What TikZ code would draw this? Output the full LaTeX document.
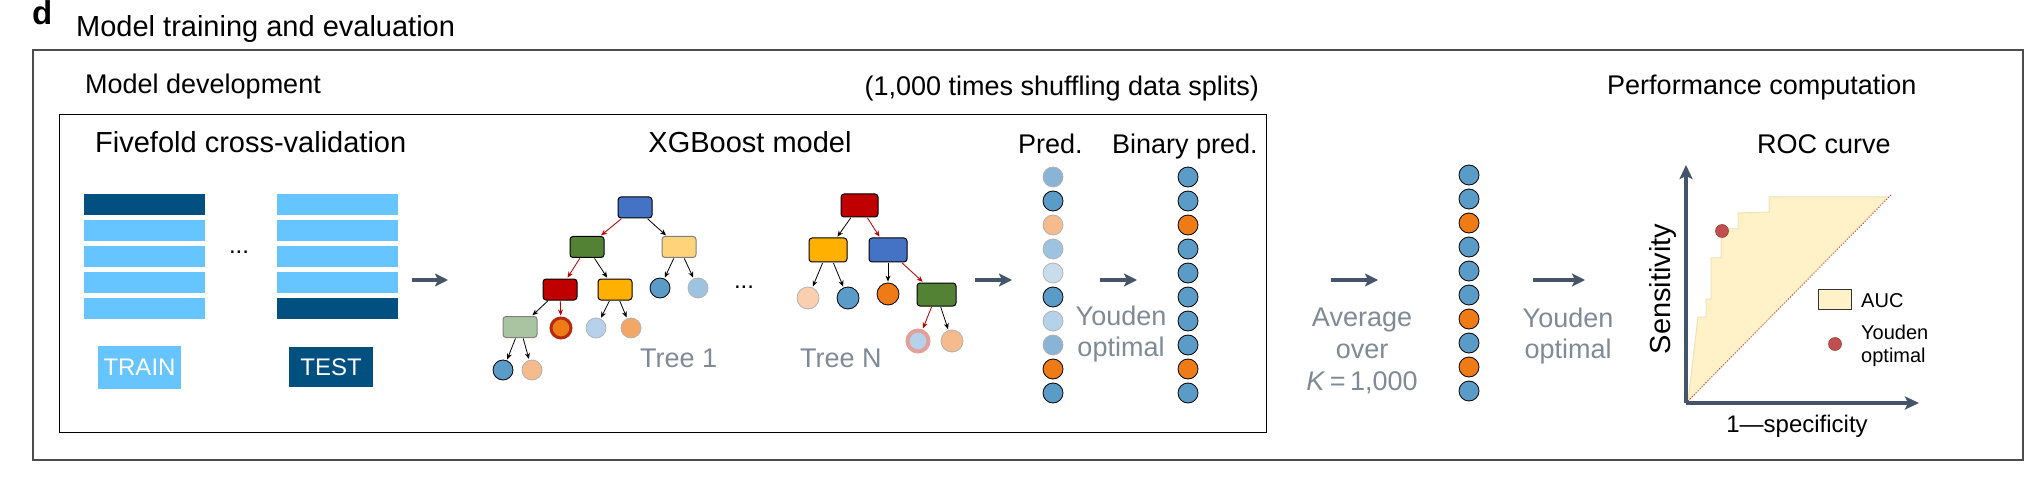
\documentclass[tikz,border=0pt]{standalone}
\usepackage{fontspec}
\setmainfont{Liberation Sans}
\usetikzlibrary{positioning,arrows.meta}

\definecolor{navy}{HTML}{02507F}
\definecolor{sky}{HTML}{66C5FF}
\definecolor{slate}{HTML}{44546A}
\definecolor{greytext}{HTML}{7F8A96}
\definecolor{boxblue}{HTML}{4472C4}
\definecolor{boxgreen}{HTML}{548235}
\definecolor{boxsand}{HTML}{FFD37A}
\definecolor{boxred}{HTML}{C00000}
\definecolor{boxamber}{HTML}{FFB000}
\definecolor{boxsage}{HTML}{A9C4A0}
\definecolor{dotblue}{HTML}{5B9BC8}
\definecolor{dotorange}{HTML}{EE7B16}
\definecolor{dotpeach}{HTML}{F5BB8C}
\definecolor{dotcream}{HTML}{F9CFB0}
\definecolor{dotapricot}{HTML}{F2A766}
\definecolor{dotice}{HTML}{B5D2EA}
\definecolor{dotsky}{HTML}{9DC3E0}
\definecolor{dotmist}{HTML}{C9DCEC}
\definecolor{dotsteel}{HTML}{8AB4D6}
\definecolor{ringred}{HTML}{B52A0A}
\definecolor{ringpink}{HTML}{E3A09B}
\definecolor{aucfill}{HTML}{FFF2C9}
\definecolor{aucline}{HTML}{EDE2B5}
\definecolor{youden}{HTML}{C0504D}

\tikzset{
  hfont/.style={font=\fontsize{29}{33}\selectfont},
  mfont/.style={font=\fontsize{27}{31}\selectfont},
  sfont/.style={font=\fontsize{20}{23}\selectfont},
  fold/.style={minimum width=121pt, minimum height=21pt},
  tnode/.style={draw=black, rounded corners=3pt, minimum width=34pt, minimum height=21pt, line width=1pt},
  dot/.style={circle, draw=black, minimum size=20pt, line width=0.8pt},
  pale/.style={draw=gray!60},
  tedge/.style={-{Stealth[length=6pt,width=5pt]}, line width=0.8pt, shorten >=1pt, shorten <=0.5pt},
  redge/.style={tedge, draw=boxred, fill=boxred},
  flow/.style={-{Stealth[length=13pt,width=13pt,inset=3pt]}, line width=4pt, draw=slate},
}

\begin{document}
\begin{tikzpicture}[x=1pt, y=-1pt, every node/.style={inner sep=0pt}]
\useasboundingbox (0,0) rectangle (2033,486);

% frames
\draw[black!70, line width=1.5pt] (33,50) rectangle (2023,460);
\draw[black, line width=1pt] (59,115) rectangle (1266,432);

% headings
\node[anchor=base west, font=\bfseries\fontsize{33}{36}\selectfont] (panel) at (32,25) {d};
\node[hfont, anchor=base west] (title) at (76,37) {Model training and evaluation};
\node[mfont, anchor=base west] (devtitle) at (85,94) {Model development};
\node[mfont, anchor=base east] (shuffle) at (1259,96) {(1,000 times shuffling data splits)};
\node[mfont, anchor=base west] (perftitle) at (1607,95) {Performance computation};
\node[hfont, anchor=base west] (cvtitle) at (95,153) {Fivefold cross-validation};
\node[hfont, anchor=base] (xgbtitle) at (750,153) {XGBoost model};
\node[mfont, anchor=base west] (predtitle) at (1018,154) {Pred.};
\node[mfont, anchor=base west] (bintitle) at (1112,154) {Binary pred.};
\node[mfont, anchor=base west] (roctitle) at (1757,154) {ROC curve};

% cross-validation folds
\foreach \i/\cl/\cr in {0/navy/sky, 1/sky/sky, 2/sky/sky, 3/sky/sky, 4/sky/navy} {
    \pgfmathsetmacro{\yy}{204.5+26*\i}
    \node[fold, fill=\cl] (fa\i) at (144.5,\yy) {};
    \node[fold, fill=\cr] (fb\i) at (337,\yy) {};
}
\node[anchor=base, font=\fontsize{24}{28}\selectfont] (cvdots) at (239,254) {...};
\node[font=\fontsize{24}{28}\selectfont, fill=sky, text=white, minimum width=83pt, minimum height=43pt] (train) at (139.5,367) {TRAIN};
\node[font=\fontsize{24}{28}\selectfont, fill=navy, text=white, minimum width=84pt, minimum height=40pt] (test) at (331,367) {TEST};

% tree 1
\node[tnode, fill=boxblue] (t1a) at (635,207.5) {};
\node[tnode, fill=boxgreen] (t1b) at (587,247) {};
\node[tnode, fill=boxsand, draw=gray] (t1c) at (679,247) {};
\node[tnode, fill=boxred] (t1d) at (560,289.5) {};
\node[tnode, fill=boxamber] (t1e) at (615,289.5) {};
\node[dot, fill=dotblue] (t1f) at (660,288) {};
\node[dot, pale, fill=dotsky] (t1g) at (698,288) {};
\node[tnode, fill=boxsage, draw=gray] (t1h) at (520,327) {};
\node[dot, fill=dotorange, draw=ringred, line width=3pt] (t1i) at (561,328) {};
\node[dot, pale, fill=dotice] (t1j) at (596,328) {};
\node[dot, pale, fill=dotapricot] (t1k) at (631,328) {};
\node[dot, fill=dotblue] (t1l) at (503,370) {};
\node[dot, pale, fill=dotpeach] (t1m) at (532,370) {};

\draw[redge] (t1a) -- (t1b);
\draw[tedge] (t1a) -- (t1c);
\draw[redge] (t1b) -- (t1d);
\draw[tedge] (t1b) -- (t1e);
\draw[tedge] (t1c) -- (t1f);
\draw[tedge] (t1c) -- (t1g);
\draw[tedge] (t1d) -- (t1h);
\draw[redge] (t1d) -- (t1i);
\draw[tedge] (t1e) -- (t1j);
\draw[tedge] (t1e) -- (t1k);
\draw[tedge] (t1h) -- (t1l);
\draw[tedge] (t1h) -- (t1m);

\node[mfont, text=greytext, anchor=base west] (tree1) at (640,367) {Tree 1};
\node[anchor=base, font=\fontsize{24}{28}\selectfont] (treedots) at (744,288) {...};

% tree N
\node[tnode, fill=boxred, minimum width=37pt, minimum height=23pt] (tna) at (859.5,205.5) {};
\node[tnode, fill=boxamber, minimum width=38pt, minimum height=24pt] (tnb) at (828,250) {};
\node[tnode, fill=boxblue, minimum width=38pt, minimum height=24pt] (tnc) at (888,250) {};
\node[dot, pale, fill=dotcream, minimum size=22pt] (tnd) at (808,298) {};
\node[dot, fill=dotblue, minimum size=22pt] (tne) at (848,298) {};
\node[dot, fill=dotorange, minimum size=22pt] (tnf) at (888,294) {};
\node[tnode, fill=boxgreen, minimum width=39pt, minimum height=23pt] (tng) at (936.5,294.5) {};
\node[dot, fill=dotice, draw=ringpink, line width=4pt, minimum size=21pt] (tnh) at (918,341) {};
\node[dot, pale, fill=dotpeach, minimum size=22pt] (tni) at (952,341) {};

\draw[tedge] (tna) -- (tnb);
\draw[redge] (tna) -- (tnc);
\draw[tedge] (tnb) -- (tnd);
\draw[tedge] (tnb) -- (tne);
\draw[tedge] (tnc) -- (tnf);
\draw[redge] (tnc) -- (tng);
\draw[redge] (tng) -- (tnh);
\draw[tedge] (tng) -- (tni);

\node[mfont, text=greytext, anchor=base west] (treeN) at (800,367) {Tree N};

% prediction columns
\foreach \fillc/\linec [count=\i from 0] in {dotsteel/gray!60, dotblue/black, dotpeach/gray!60, dotsky/gray!60, dotmist/gray!60, dotblue/black, dotice/gray!60, dotsteel/gray!60, dotorange/black, dotblue/black} {
    \node[dot, fill=\fillc, draw=\linec] (p\i) at (1053,177+24*\i) {};
}
\foreach \fillc [count=\i from 0] in {dotblue, dotblue, dotorange, dotblue, dotblue, dotblue, dotblue, dotblue, dotorange, dotblue} {
    \node[dot, fill=\fillc] (b\i) at (1188,177+24*\i) {};
}
\foreach \fillc [count=\i from 0] in {dotblue, dotblue, dotorange, dotblue, dotblue, dotblue, dotorange, dotblue, dotorange, dotblue} {
    \node[dot, fill=\fillc] (m\i) at (1469,175+24*\i) {};
}

\node[mfont, text=greytext, align=center, anchor=north] (youden1) at (1121,306) {Youden\\optimal};
\node[mfont, text=greytext, align=center, anchor=north] (average) at (1362,308) {Average\\[1pt]over\\[1pt]\textit{K}\,=\,1,000};
\node[mfont, text=greytext, align=center, anchor=north] (youden2) at (1568,308) {Youden\\optimal};

% flow arrows
\coordinate (s1) at (412,280);  \coordinate (e1) at (448,280);
\coordinate (s2) at (975,280);  \coordinate (e2) at (1012,280);
\coordinate (s3) at (1100,280); \coordinate (e3) at (1137,280);
\coordinate (s4) at (1331,280); \coordinate (e4) at (1378,280);
\coordinate (s5) at (1533,280); \coordinate (e5) at (1585,280);
\foreach \k in {1,...,5} {
    \draw[flow] (s\k) -- (e\k);
}

% ROC curve
\coordinate (origin) at (1686,403);
\coordinate (ytip) at (1686,165);
\coordinate (xtip) at (1919,403);
\filldraw[fill=aucfill, draw=aucline, line width=1pt]
    (1688,401) -- (1698,317) -- (1706,317) -- (1706,299) -- (1711,299) -- (1711,258)
    -- (1721,258) -- (1721,229) -- (1738,229) -- (1738,213) -- (1769,212) -- (1769,197)
    -- (1888,197) -- cycle;
\draw[boxred, line width=0.8pt, dotted] (1688,401) -- (1891,195);
\draw[flow, -{Stealth[length=14pt,width=13pt,inset=3pt]}] (origin) -- (ytip);
\draw[flow, -{Stealth[length=14pt,width=13pt,inset=3pt]}] (origin) -- (xtip);
\node[circle, fill=youden, draw=youden!80!black, line width=0.6pt, minimum size=13pt] (ydot) at (1722,231) {};

\node[fill=aucfill, draw=black!80, line width=1pt, minimum width=33pt, minimum height=20pt] (aucbox) at (1834.5,299) {};
\node[sfont, anchor=base west] (auclabel) at (1861,307) {AUC};
\node[circle, fill=youden, draw=youden!80!black, line width=0.6pt, minimum size=13pt] (legdot) at (1835,344) {};
\node[sfont, align=left, anchor=north west] (leglabel) at (1861,325) {Youden\\optimal};

\node[hfont, rotate=90, anchor=base] (sens) at (1670,289) {Sensitivity};
\node[font=\fontsize{24}{28}\selectfont, anchor=base] (spec) at (1797,432) {1—specificity};
\end{tikzpicture}
\end{document}
